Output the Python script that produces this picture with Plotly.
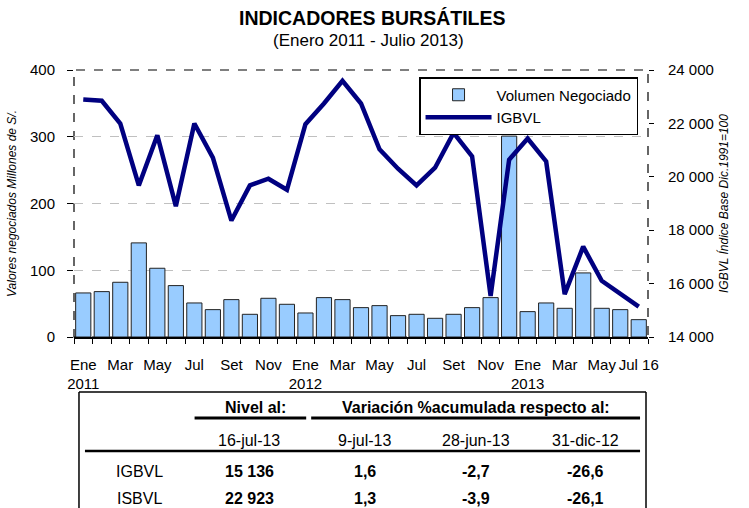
"""
Indicadores bursatiles: volumen negociado (barras) e IGBVL (linea)
Enero 2011 - Julio 2013, con tabla resumen debajo
"""

import plotly.graph_objects as go

# ---- data -------------------------------------------------------------
months = ['Ene', 'Feb', 'Mar', 'Abr', 'May', 'Jun', 'Jul', 'Ago', 'Set', 'Oct', 'Nov', 'Dic']
periods = [f"{m} {y}" for y in (2011, 2012) for m in months] + \
          [f"{m} 2013" for m in months[:7]]

volumen = [66, 68, 82, 141, 103, 77, 51, 41, 56, 34, 58, 49,
           36, 59, 56, 44, 47, 32, 34, 28, 34, 44, 59, 301,
           38, 51, 43, 96, 43, 41, 26]

igbvl = [22897, 22847, 21995, 19677, 21556, 18900, 21995, 20717, 18361, 19677, 19927, 19513,
         21970, 22747, 23599, 22747, 21030, 20303, 19677, 20341, 21644, 20767, 15541, 20642,
         21431, 20579, 15604, 17383, 16105, 15629, 15136]

tick_idx = [0, 2, 4, 6, 8, 10, 12, 14, 16, 18, 20, 22, 24, 26, 28, 30]
tick_text = ['Ene<br>2011', 'Mar', 'May', 'Jul', 'Set', 'Nov',
             'Ene<br>2012', 'Mar', 'May', 'Jul', 'Set', 'Nov',
             'Ene<br>2013', 'Mar', 'May', 'Jul 16']

# table
tbl_indices = ['IGBVL', 'ISBVL']
tbl_dates = ['16-jul-13', '9-jul-13', '28-jun-13', '31-dic-12']
tbl_level = [15136, 22923]
tbl_var_week = [1.6, 1.3]
tbl_var_month = [-2.7, -3.9]
tbl_var_year = [-26.6, -26.1]

# ---- layout helpers -----------------------------------------------------
W, H = 749, 508
L, R, T, B = 72, 648, 70, 337
FONT = 'Liberation Sans, Arial, sans-serif'


def px(x, y):
    """pixel position -> paper coordinates"""
    return (x - L) / (R - L), (B - y) / (B - T)


def fmt_num(v):
    return f"{v:,}".replace(',', ' ')


def fmt_dec(v):
    return f"{v:.1f}".replace('.', ',')


fig = go.Figure()

x = list(range(len(periods)))

fig.add_trace(go.Bar(
    x=x, y=volumen, name='Volumen Negociado',
    marker=dict(color='#99CCFF', line=dict(color='#222222', width=1)),
    hovertext=periods,
))

fig.add_trace(go.Scatter(
    x=x, y=igbvl, name='IGBVL', yaxis='y2', mode='lines',
    line=dict(color='#000080', width=4.5),
    hovertext=periods,
))

fig.update_layout(
    width=W, height=H,
    margin=dict(l=L, r=W - R, t=T, b=H - B),
    paper_bgcolor='white', plot_bgcolor='white',
    font=dict(family=FONT, size=14, color='black'),
    separators=', ',
    bargap=0.18,
    title=dict(
        text='<b>INDICADORES BURSÁTILES</b>',
        x=0.497, xanchor='center', y=1 - 18 / H, yanchor='middle',
        font=dict(size=19.5, color='black'),
    ),
    xaxis=dict(
        range=[-0.5, len(x) - 0.5],
        tickmode='array', tickvals=tick_idx, ticktext=tick_text,
        ticks='', ticklabelstandoff=13,
        tickfont=dict(size=15),
        showline=True, linecolor='black', linewidth=1.5,
        showgrid=False, zeroline=False,
        minor=dict(tickvals=[i - 0.5 for i in range(len(x) + 1)],
                   ticks='outside', ticklen=5, tickcolor='black', showgrid=False),
    ),
    yaxis=dict(
        range=[0, 400], dtick=100,
        ticks='outside', ticklen=6, tickcolor='black', ticklabelstandoff=9,
        tickfont=dict(size=15),
        showgrid=True, gridcolor='#C0C0C0', griddash='dash', gridwidth=1,
        zeroline=False, showline=False,
        title=dict(text='<i>Valores negociados Millones de S/.</i>',
                   font=dict(size=12), standoff=10),
    ),
    yaxis2=dict(
        overlaying='y', side='right',
        range=[14000, 24000], dtick=2000, tickformat=',d',
        ticks='outside', ticklen=5, tickcolor='black', ticklabelstandoff=11,
        tickfont=dict(size=15),
        showgrid=False, zeroline=False, showline=False,
        title=dict(text='<i>IGBVL Índice Base Dic.1991=100</i>',
                   font=dict(size=12), standoff=6),
    ),
    legend=dict(
        x=px(638, 0)[0], xanchor='right', y=px(0, 77)[1], yanchor='top',
        bgcolor='white', bordercolor='black', borderwidth=1.5,
        font=dict(size=15), itemwidth=66,
        tracegroupgap=0,
    ),
    showlegend=True,
)

shapes = []
# dashed plot frame
shapes.append(dict(type='rect', xref='paper', yref='paper', x0=0, x1=1, y0=0, y1=1,
                   line=dict(color='black', width=1.2, dash='dash'), layer='below'))

# table frame and rules
tx0, tx1 = px(77, 0)[0], px(646, 0)[0]
ty_top = px(0, 392)[1]
ty_bot = px(0, 512)[1]
shapes.append(dict(type='line', xref='paper', yref='paper', x0=tx0, x1=tx1, y0=ty_top, y1=ty_top,
                   line=dict(color='black', width=1.5)))
for xx in (tx0, tx1):
    shapes.append(dict(type='line', xref='paper', yref='paper', x0=xx, x1=xx, y0=ty_top, y1=ty_bot,
                       line=dict(color='black', width=1.5)))
uy = px(0, 418)[1]
shapes.append(dict(type='line', xref='paper', yref='paper', x0=px(193, 0)[0], x1=px(305, 0)[0],
                   y0=uy, y1=uy, line=dict(color='black', width=3)))
shapes.append(dict(type='line', xref='paper', yref='paper', x0=px(310, 0)[0], x1=px(640, 0)[0],
                   y0=uy, y1=uy, line=dict(color='black', width=3)))
ly = px(0, 451)[1]
shapes.append(dict(type='line', xref='paper', yref='paper', x0=px(83, 0)[0], x1=px(640, 0)[0],
                   y0=ly, y1=ly, line=dict(color='black', width=2.5)))
fig.update_layout(shapes=shapes)

annotations = []


def note(text, xpix, ypix, size=16, bold=False):
    xp, yp = px(xpix, ypix)
    annotations.append(dict(
        text=f'<b>{text}</b>' if bold else text,
        x=xp, y=yp, xref='paper', yref='paper', xanchor='center', yanchor='middle',
        showarrow=False, font=dict(size=size, color='black'),
    ))


# subtitle
note('(Enero 2011 - Julio 2013)', 368, 41, size=17)

# table content
col_x = [138, 248, 364, 475, 585]
note('Nivel al:', 254, 407, bold=True)
note('Variación %acumulada respecto al:', 475, 407, bold=True)
for cx, d in zip(col_x[1:], tbl_dates):
    note(d, cx, 440)
row_y = [471, 498]
for i, name in enumerate(tbl_indices):
    note(name, col_x[0], row_y[i])
    note(fmt_num(tbl_level[i]), col_x[1], row_y[i], bold=True)
    note(fmt_dec(tbl_var_week[i]), col_x[2], row_y[i], bold=True)
    note(fmt_dec(tbl_var_month[i]), col_x[3], row_y[i], bold=True)
    note(fmt_dec(tbl_var_year[i]), col_x[4], row_y[i], bold=True)

fig.update_layout(annotations=annotations)

# the page body has a default 8px margin; drop it so the figure fills the window
fig.write_html("out.html", config={'displayModeBar': False},
               post_script="document.body.style.margin='0';")
